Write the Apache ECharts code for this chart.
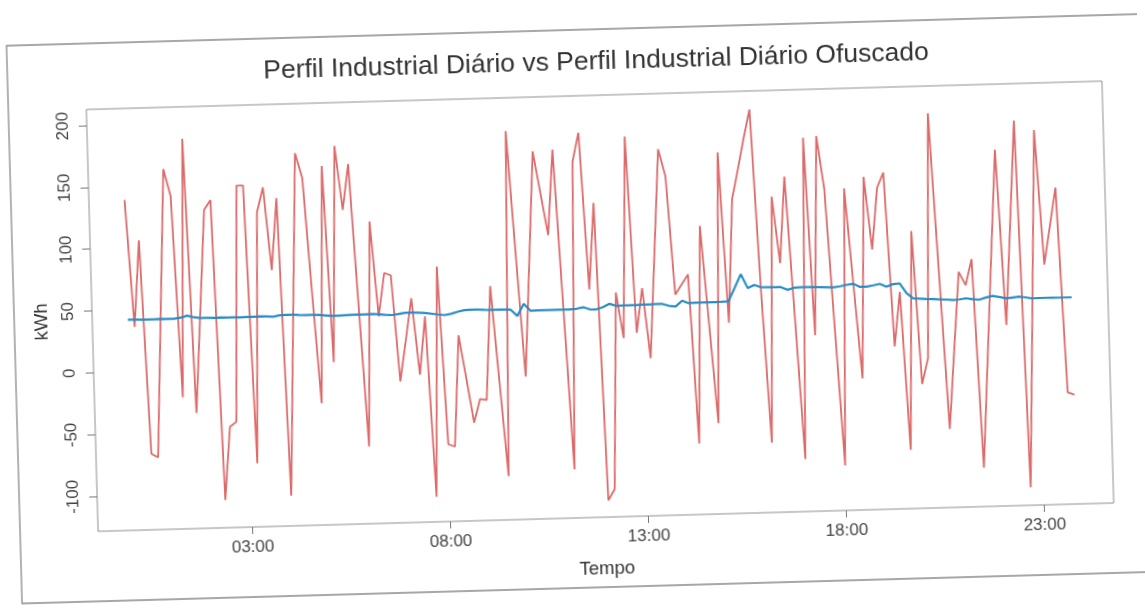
<!DOCTYPE html>
<html><head><meta charset="utf-8">
<script src="https://cdn.jsdelivr.net/npm/echarts@6/dist/echarts.min.js"></script>
<style>
html,body{margin:0;padding:0;background:#fff;overflow:hidden}
#c{width:1145px;height:612px;transform:rotate(-1.6deg);transform-origin:50% 50%;}
</style>
</head><body><div id="c"></div>
<script>
const chartTitle = 'Perfil Industrial Diário vs Perfil Industrial Diário Ofuscado';
const xAxisName = 'Tempo';
const yAxisName = 'kWh';
const stepMinutes = 10;              // one reading every 10 minutes, 00:00 .. 23:50
const xTickHours = [3, 8, 13, 18, 23];
const yTickValues = [-100, -50, 0, 50, 100, 150, 200];

// Perfil Industrial Diário Ofuscado (red)
const ofuscado = [
 139, 36, 106, -67, -70, 47, 163, 141, -22, 187,
 -35, 47, 129, 137, -106, -47, -43, 148, 148, -77,
 126, 146, 79, 137, -104, 35, 173, 153, 60, -30,
 162, 3, 178, 126, 163, 48, -66, 116, 39, 74,
 72, -14, 19, 53, -9, 38, -108, 78, -66, -68,
 22, -13, -49, -30, -31, 61, -16, -93, 186, 86,
 -13, 78, 169, 135, 101, 170, 41, -89, 160, 183,
 56, 126, -115, -106, 53, 16, 179, 20, 56, -1,
 83, 168, 146, 50, 58, 66, -71, 105, 25, -55,
 164, 26, 126, 150, 175, 198, 50, -72, 127, 73,
 143, 30, -86, 174, 14, 175, 132, 20, -92, 132,
 55, -22, 141, 82, 132, 144, 3, 47, -81, 96,
 -28, -7, 191, 63, -65, -1, 62, 51, 72, -97,
 -11, 75, 160, 18, 100, 183, -114, 30, 175, 66,
 97, 128, -38, -40
];

// Perfil Industrial Diário (blue)
const original = [
 42, 42, 41.8, 41.7, 41.8, 42, 41.8, 41.7, 42.5, 44,
 42.5, 41.8, 41.8, 41.6, 41.7, 41.5, 41.6, 41.4, 41.5, 41.6,
 41.7, 41.5, 41.2, 42.2, 42.4, 42.3, 42, 41.8, 41.8, 41.5,
 41, 40.5, 40.6, 40.8, 41, 41, 41, 41.2, 40.8, 40.2,
 39.8, 40.5, 41.4, 41.4, 41.2, 40.8, 40, 39.2, 38.6, 39.5,
 41, 42.2, 42.4, 42.4, 42, 41.7, 41.7, 41.7, 41.5, 36.3,
 45.9, 40.2, 40.3, 40.3, 40.4, 40.3, 40.3, 40.3, 40.8, 41.8,
 40, 39.8, 41.5, 44, 42.2, 42.3, 42.4, 42.4, 42.5, 42.6,
 42.7, 42.7, 41, 40.3, 44.9, 42.7, 42.9, 43, 43, 43,
 43.1, 43.3, 54, 65, 53.5, 56, 54, 53.9, 53.7, 53.6,
 51.3, 52.8, 53, 53, 52.9, 52.7, 52.5, 52.3, 53, 54,
 54.7, 52, 52.1, 53, 54, 51.6, 53.5, 54, 46, 41.5,
 41.2, 40.8, 40.6, 40.2, 39.8, 39.3, 39.6, 40.4, 39.5, 39,
 40.5, 41.7, 40.8, 39.5, 40, 40.5, 39.8, 38.8, 39, 39,
 38.9, 38.8, 38.8, 38.8
];

const FONT = "'Liberation Sans', Arial, Helvetica, sans-serif";
const toPairs = arr => arr.map((v, i) => [i * stepMinutes / 60, v]);
const hh = h => (h < 10 ? '0' : '') + Math.round(h) + ':00';

const chart = echarts.init(document.getElementById('c'), null, {renderer: 'canvas'});
chart.setOption({
  animation: false,
  backgroundColor: '#ffffff',
  title: {
    text: chartTitle,
    left: 270,
    top: 49,
    padding: 0,
    textStyle: {fontFamily: FONT, fontSize: 26.5, fontWeight: 'normal', color: '#333'}
  },
  graphic: [{
    type: 'rect', z: -10, silent: true,
    shape: {x: 14, y: 30, width: 1200, height: 558},
    style: {fill: 'none', stroke: '#8a8a8a', lineWidth: 1.3}
  }],
  grid: {left: 92, right: 37, top: 96, bottom: 94, show: true, borderColor: '#8f8f8f', borderWidth: 1, backgroundColor: 'transparent'},
  xAxis: {
    type: 'value', min: -0.9, max: 24.75,
    name: xAxisName, nameLocation: 'middle', nameGap: 42,
    nameTextStyle: {fontFamily: FONT, fontSize: 18.5, color: '#333'},
    axisLine: {show: false, onZero: false},
    splitLine: {show: false},
    axisTick: {show: true, inside: false, length: 7, customValues: xTickHours, lineStyle: {color: '#777'}},
    axisLabel: {customValues: xTickHours, margin: 12, formatter: v => hh(v), fontFamily: FONT, fontSize: 17, color: '#444'}
  },
  yAxis: {
    type: 'value', min: -128.5, max: 213,
    name: yAxisName, nameLocation: 'middle', nameGap: 41, nameRotate: 90,
    nameTextStyle: {fontFamily: FONT, fontSize: 18.5, color: '#333'},
    axisLine: {show: false, onZero: false},
    splitLine: {show: false},
    axisTick: {show: true, inside: false, length: 8, customValues: yTickValues, lineStyle: {color: '#777'}},
    axisLabel: {customValues: yTickValues, rotate: 90, margin: 15, fontFamily: FONT, fontSize: 17, color: '#444'}
  },
  series: [
    {name: 'Perfil Industrial Diário Ofuscado', type: 'line', data: toPairs(ofuscado), showSymbol: false, symbol: 'none',
     lineStyle: {color: '#dc6a6a', width: 1.8}, itemStyle: {color: '#dc6a6a'}, z: 2},
    {name: 'Perfil Industrial Diário', type: 'line', data: toPairs(original), showSymbol: false, symbol: 'none',
     lineStyle: {color: '#2a8cc4', width: 2.2}, itemStyle: {color: '#2a8cc4'}, z: 3}
  ]
});
</script>
</body></html>
